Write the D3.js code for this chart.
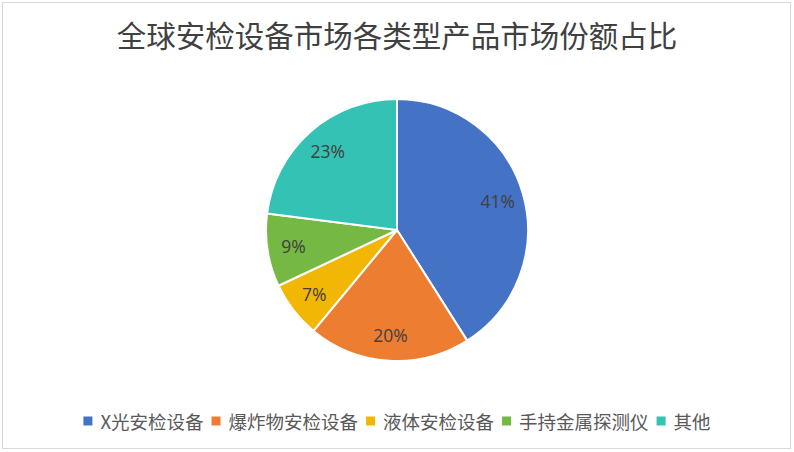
<!DOCTYPE html>
<html><head><meta charset="utf-8">
<script src="https://cdn.jsdelivr.net/npm/d3@7/dist/d3.min.js"></script>
<style>html,body{margin:0;padding:0;background:#fff;}</style>
</head><body>
<svg id="chart" width="794" height="452"></svg>
<script>
const title = "全球安检设备市场各类型产品市场份额占比";
const categories = ["X光安检设备", "爆炸物安检设备", "液体安检设备", "手持金属探测仪", "其他"];
const values = [41, 20, 7, 9, 23];
const colors = ["#4472C4", "#ED7D31", "#F2B705", "#75B843", "#33C2B4"];

const W = 794, H = 452;
const svg = d3.select("#chart");
const font = "'Noto Sans CJK SC', 'Noto Sans', sans-serif";

svg.append("rect").attr("x", 2.5).attr("y", 2.5).attr("width", 788).attr("height", 446)
  .attr("fill", "#fff").attr("stroke", "#D9D9D9").attr("stroke-width", 1);

svg.append("text").attr("x", 397).attr("y", 47).attr("text-anchor", "middle")
  .attr("font-family", font).attr("font-size", 29.5).attr("fill", "#404040")
  .text(title);

const cx = 397, cy = 230, r = 131;
const data = categories.map((c, i) => ({ cat: c, value: values[i], color: colors[i] }));
const pie = d3.pie().value(d => d.value).sort(null);
const arcs = pie(data);
const arc = d3.arc().innerRadius(0).outerRadius(r);
const labelArc = d3.arc().innerRadius(r * 0.8).outerRadius(r * 0.8);

const g = svg.append("g").attr("transform", `translate(${cx},${cy})`);
g.selectAll("path").data(arcs).join("path")
  .attr("d", arc).attr("fill", d => d.data.color)
  .attr("stroke", "#fff").attr("stroke-width", 2).attr("stroke-linejoin", "round");

const total = d3.sum(values);
g.selectAll("text.lbl").data(arcs).join("text").attr("class", "lbl")
  .attr("transform", d => `translate(${labelArc.centroid(d)})`)
  .attr("text-anchor", "middle").attr("dominant-baseline", "central")
  .attr("font-family", "'Open Sans', 'Noto Sans', sans-serif").attr("font-size", 17.5)
  .attr("fill", "#404040")
  .text(d => Math.round(d.data.value / total * 100) + "%");

// legend
const lg = svg.append("g");
const fs = 18.5, sq = 9, gapMT = 8, gapItem = 8, ly = 421;
let x = 0;
categories.forEach((c, i) => {
  const it = lg.append("g");
  it.append("rect").attr("x", x).attr("y", ly - sq / 2).attr("width", sq).attr("height", sq).attr("fill", colors[i]);
  const t = it.append("text").attr("x", x + sq + gapMT).attr("y", ly).attr("dominant-baseline", "central")
    .attr("font-family", font).attr("font-size", fs).attr("fill", "#595959").text(c);
  const w = t.node().getComputedTextLength();
  x += sq + gapMT + w + gapItem;
});
const totalW = x - gapItem;
lg.attr("transform", `translate(${397 - totalW / 2},0)`);
</script>
</body></html>
